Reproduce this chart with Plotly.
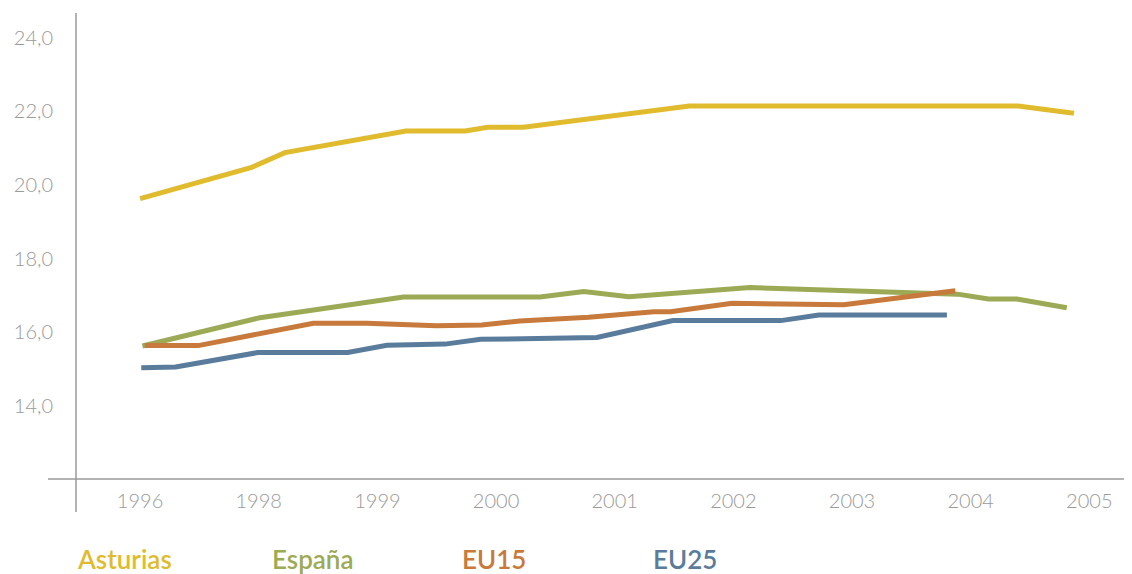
import plotly.graph_objects as go

# ---- data (x positions are in tick-label index units) ----
tick_labels = ["1996", "1998", "1999", "2000", "2001", "2002", "2003", "2004", "2005"]
y_ticks = [14, 16, 18, 20, 22, 24]

asturias_x = [0.0, 0.94, 1.22, 2.24, 2.74, 2.93, 3.23, 4.63, 7.40, 7.87]
asturias_y = [19.63, 20.48, 20.88, 21.47, 21.47, 21.57, 21.57, 22.15, 22.15, 21.95]

espana_x = [0.02, 1.01, 2.22, 3.37, 3.74, 4.12, 5.14, 6.89, 7.15, 7.39, 7.81]
espana_y = [15.62, 16.39, 16.95, 16.95, 17.10, 16.96, 17.21, 17.03, 16.90, 16.90, 16.66]

eu15_x = [0.04, 0.49, 1.46, 1.91, 2.50, 2.88, 3.20, 3.78, 4.33, 4.47, 4.99, 5.93, 6.87]
eu15_y = [15.63, 15.63, 16.24, 16.24, 16.17, 16.19, 16.30, 16.40, 16.55, 16.55, 16.78, 16.74, 17.12]

eu25_x = [0.01, 0.30, 0.99, 1.75, 2.08, 2.57, 2.87, 3.85, 4.49, 5.40, 5.72, 6.80]
eu25_y = [15.03, 15.05, 15.44, 15.44, 15.64, 15.67, 15.80, 15.85, 16.31, 16.31, 16.46, 16.46]

series_names = ["Asturias", "España", "EU15", "EU25"]
colors = ["#E0BB2D", "#9DAA55", "#C77A3B", "#5A7C9C"]

OFF = 8  # page body margin
W, H = 1132 - OFF, 574 - OFF
ML, MR, MT, MB = 76 - OFF, 0, 13 - OFF, 0
PW = W - ML - MR
PH = 466
MB = H - MT - PH

fig = go.Figure()
for name, xs, ys, c in zip(series_names,
                           [asturias_x, espana_x, eu15_x, eu25_x],
                           [asturias_y, espana_y, eu15_y, eu25_y],
                           colors):
    fig.add_trace(go.Scatter(x=xs, y=ys, mode="lines", name=name,
                             line=dict(color=c, width=5), showlegend=False))

axis_gray = "#9a9a9a"
tick_font = dict(family="Lato", size=20, color="#9a9a9a", weight=300)

fig.update_layout(
    width=W, height=H,
    margin=dict(l=ML, r=MR, t=MT, b=MB),
    paper_bgcolor="white", plot_bgcolor="white",
    separators=", ",
    xaxis=dict(range=[-0.54, 8.36], tickvals=list(range(len(tick_labels))),
               ticktext=tick_labels, showgrid=False, zeroline=False,
               showline=False, ticks="", tickfont=tick_font,
               ticklabelstandoff=8),
    yaxis=dict(range=[12, 24.68], tickvals=y_ticks, tickformat=".1f",
               showgrid=False, zeroline=False, showline=False, ticks="",
               tickfont=tick_font, ticklabelstandoff=22),
    shapes=[
        dict(type="line", xref="paper", yref="paper", x0=0, x1=0,
             y0=-33 / PH, y1=1, line=dict(color=axis_gray, width=1.5)),
        dict(type="line", xref="paper", yref="paper", x0=-28 / PW, x1=1,
             y0=0, y1=0, line=dict(color=axis_gray, width=1.5)),
    ],
)

# legend row (target screen x of each label's left edge)
legend_px = [75, 270, 460, 651]
for name, c, px in zip(series_names, colors, legend_px):
    fig.add_annotation(text=name, xref="paper", yref="paper",
                       x=(px - 76) / PW, y=(479 - 559) / PH,
                       xanchor="left", yanchor="middle", showarrow=False,
                       font=dict(family="Lato", size=26, color=c, weight=600))

fig.write_html("out.html")
